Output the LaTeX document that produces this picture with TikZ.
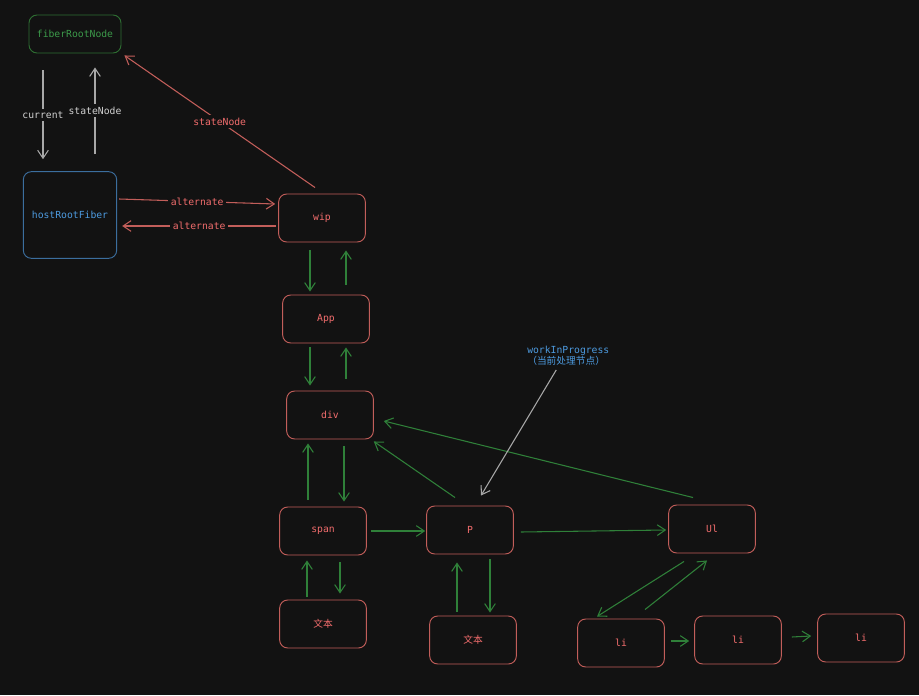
\documentclass[tikz,border=0pt]{standalone}
\usepackage{fontspec}
\setmonofont{DejaVu Sans Mono}
\newfontfamily\cjk{Noto Sans CJK SC}
\usetikzlibrary{arrows.meta, calc, positioning}
\definecolor{bg}{HTML}{121212}
\definecolor{redline}{HTML}{C25E5A}
\definecolor{redtext}{HTML}{F26D6D}
\definecolor{greenline}{HTML}{2E6E32}
\definecolor{greentext}{HTML}{3C9A4A}
\definecolor{greenarrow}{HTML}{2F8039}
\definecolor{blueline}{HTML}{3B6E9E}
\definecolor{bluetext}{HTML}{4D9BE0}
\definecolor{grayarrow}{HTML}{A8A8A8}
\definecolor{graytext}{HTML}{D2D2D2}

\begin{document}
\begin{tikzpicture}[x=0.75pt, y=-0.75pt,
    >={Straight Barb[length=6pt, width=8pt]},
    txt/.style={font=\ttfamily\fontsize{7.3}{8.3}\selectfont},
    box/.style={txt, draw=redline, text=redtext, line width=0.7pt, rounded corners=6pt,
                minimum width=65pt, minimum height=36pt},
    link/.style={->, greenarrow, line width=0.8pt},
    redlink/.style={->, redline, line width=0.8pt},
    graylink/.style={->, grayarrow, line width=0.8pt},
    lbl/.style={txt, fill=bg, inner sep=2pt}]

    \fill[bg] (0,0) rectangle (919,695);

    % roots
    \node[box, draw=greenline, text=greentext, minimum width=69pt, minimum height=28.5pt] (frn) at (75,34) {fiberRootNode};
    \node[box, draw=blueline, text=bluetext, minimum width=70pt, minimum height=65pt] (hrf) at (70,215) {hostRootFiber};

    % fiber tree
    \node[box] (wip) at (322,218) {wip};
    \node[box] (app) at (326,319) {App};
    \node[box] (div) at (330,415) {div};
    \node[box] (span) at (323,531) {span};
    \node[box] (p) at (470,530) {P};
    \node[box] (ul) at (712,529) {Ul};
    \node[box] (txta) at (323,624) {\cjk 文本};
    \node[box] (txtb) at (473,640) {\cjk 文本};
    \node[box] (lia) at (621,643) {li};
    \node[box] (lib) at (738,640) {li};
    \node[box] (lic) at (861,638) {li};

    \node[txt, text=bluetext, align=left, anchor=north west, inner sep=0pt] (wiplbl) at (527,346)
        {workInProgress\\{\cjk （当前处理节点）}};

    % root links
    \draw[graylink] ($(frn.south)+(-32,17)$) -- node[lbl, text=graytext] {current} ($(hrf.north)+(-27,-12)$);
    \draw[graylink] ($(hrf.north)+(25,-17)$) -- node[lbl, text=graytext] {stateNode} ($(frn.south)+(20,14)$);
    \draw[redlink] ($(wip.north)+(-7,-6)$) -- node[lbl, text=redtext] {stateNode} ($(frn.south east)+(3,2)$);
    \draw[redlink] ($(hrf.east)+(2,-16)$) -- node[lbl, text=redtext] {alternate} ($(wip.west)+(-3,-14)$);
    \draw[redlink] ($(wip.west)+(-2,8)$) -- node[lbl, text=redtext] {alternate} ($(hrf.east)+(5,11)$);

    % child / return
    \draw[link] ($(wip.south)+(-12,8)$) -- ($(app.north)+(-16,-3)$);
    \draw[link] ($(app.north)+(20,-10)$) -- ($(wip.south)+(24,8)$);
    \draw[link] ($(app.south)+(-16,4)$) -- ($(div.north)+(-20,-5)$);
    \draw[link] ($(div.north)+(16,-12)$) -- ($(app.south)+(20,4)$);
    \draw[link] ($(div.south)+(14,7)$) -- ($(span.north)+(21,-5)$);
    \draw[link] ($(span.north)+(-15,-7)$) -- ($(div.south)+(-22,4)$);
    \draw[link] ($(span.south)+(17,7)$) -- ($(txta.north)+(17,-6)$);
    \draw[link] ($(txta.north)+(-16,-3)$) -- ($(span.south)+(-16,5)$);
    \draw[link] ($(p.south)+(20,5)$) -- ($(txtb.north)+(17,-3)$);
    \draw[link] ($(txtb.north)+(-16,-4)$) -- ($(p.south)+(-13,8)$);
    \draw[link] ($(ul.south)+(-28,8)$) -- ($(lia.north)+(-24,-2)$);
    \draw[link] ($(lia.north)+(24,-9)$) -- ($(ul.south)+(-5,7)$);

    % sibling / return
    \draw[link] ($(span.east)+(4,0)$) -- ($(p.west)+(-1,1)$);
    \draw[link] ($(p.east)+(7,2)$) -- ($(ul.west)+(-2,1)$);
    \draw[link] ($(p.north)+(-15,-8)$) -- ($(div.south east)+(0,2)$);
    \draw[link] ($(ul.north)+(-19,-7)$) -- ($(div.east)+(10,6)$);
    \draw[link] ($(lia.east)+(6,-2)$) -- ($(lib.west)+(-5,1)$);
    \draw[link] ($(lib.east)+(10,-3)$) -- ($(lic.west)+(-6,-2)$);

    % current node pointer
    \draw[graylink] ($(wiplbl.south)+(-12,4)$) -- ($(p.north)+(11,-10)$);

\end{tikzpicture}
\end{document}
